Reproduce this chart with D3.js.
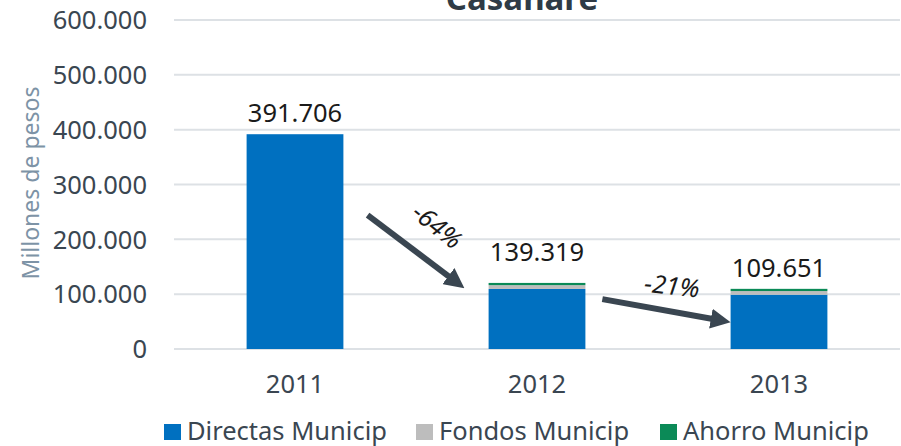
<!DOCTYPE html>
<html>
<head>
<meta charset="utf-8">
<script src="https://cdn.jsdelivr.net/npm/d3@7"></script>
<style>
  body { margin: 0; background: #fff; }
  text { font-family: "Noto Sans", "Open Sans", sans-serif; }
</style>
</head>
<body>
<div id="chart"></div>
<script>
// data
var years = ["2011", "2012", "2013"];
var series = ["Directas Municip", "Fondos Municip", "Ahorro Municip"];
var directas = [391706, 109500, 99000];
var fondos = [0, 7000, 6700];
var ahorro = [0, 4000, 4000];
var totalLabels = [391706, 139319, 109651];
var yTicks = [0, 100000, 200000, 300000, 400000, 500000, 600000];
var changes = ["-64%", "-21%"];

var colors = ["#0070c0", "#bdbdbd", "#0b8a57"];

// set up layout
var W = 901, H = 446;
var margin = { top: 20, right: 1, bottom: 97, left: 174 },
    width = W - margin.left - margin.right,
    height = H - margin.top - margin.bottom;

var svg = d3.select("#chart").append("svg")
    .attr("width", W)
    .attr("height", H);

var g = svg.append("g")
    .attr("transform", "translate(" + margin.left + "," + margin.top + ")");

var x = d3.scaleBand().domain(years).range([0, width])
    .paddingInner(0.6).paddingOuter(0.3);
var y = d3.scaleLinear().domain([0, 600000]).range([height, 0]);

var fmt = function (v) { return d3.format(",")(v).replace(/,/g, "."); };

// gridlines
g.selectAll(".grid")
    .data(yTicks)
    .enter().append("line")
    .attr("x1", 0).attr("x2", width)
    .attr("y1", function (d) { return y(d); })
    .attr("y2", function (d) { return y(d); })
    .attr("stroke", "#dde1e5")
    .attr("stroke-width", 2);

// y tick labels
g.selectAll(".ytick")
    .data(yTicks)
    .enter().append("text")
    .attr("x", -27)
    .attr("y", function (d) { return y(d); })
    .attr("dy", "0.36em")
    .attr("text-anchor", "end")
    .attr("font-size", 25.5)
    .attr("fill", "#3a4651")
    .text(function (d) { return fmt(d); });

// y axis title
svg.append("text")
    .attr("transform", "translate(39,183) rotate(-90)")
    .attr("text-anchor", "middle")
    .attr("font-size", 23)
    .attr("fill", "#7d93a6")
    .text("Millones de pesos");

// title (cut off at the top as in the original)
svg.append("text")
    .attr("x", 522)
    .attr("y", 10)
    .attr("text-anchor", "middle")
    .attr("font-size", 33)
    .attr("font-weight", "bold")
    .attr("fill", "#2f3b46")
    .text("Casanare");

// stacked bars
var rows = years.map(function (yr, i) {
    return { year: yr, "Directas Municip": directas[i], "Fondos Municip": fondos[i], "Ahorro Municip": ahorro[i] };
});
var stack = d3.stack().keys(series)(rows);

g.selectAll(".layer")
    .data(stack)
    .enter().append("g")
    .attr("fill", function (d, i) { return colors[i]; })
    .selectAll("rect")
    .data(function (d) { return d; })
    .enter().append("rect")
    .attr("x", function (d) { return x(d.data.year); })
    .attr("width", x.bandwidth())
    .attr("y", function (d) { return y(d[1]); })
    .attr("height", function (d) { return y(d[0]) - y(d[1]); });

// value labels
g.selectAll(".vlabel")
    .data(totalLabels)
    .enter().append("text")
    .attr("x", function (d, i) { return x(years[i]) + x.bandwidth() / 2; })
    .attr("y", function (d) { return y(d) - 12; })
    .attr("text-anchor", "middle")
    .attr("font-size", 25.5)
    .attr("fill", "#1a1a1a")
    .text(function (d) { return fmt(d); });

// x labels
g.selectAll(".xlabel")
    .data(years)
    .enter().append("text")
    .attr("x", function (d) { return x(d) + x.bandwidth() / 2; })
    .attr("y", height + 44)
    .attr("text-anchor", "middle")
    .attr("font-size", 25.5)
    .attr("fill", "#3a4651")
    .text(function (d) { return d; });

// arrows between bars
var step = x.step();
var cx = function (i, t) { return x(years[i]) + x.bandwidth() / 2 + t * step; };
var arrows = [
    { x1: cx(0, 0.30), v1: 244000, x2: cx(0, 0.70), v2: 111000 },
    { x1: cx(1, 0.27), v1: 91000, x2: cx(1, 0.80), v2: 49000 }
];

svg.append("defs").append("marker")
    .attr("id", "head")
    .attr("viewBox", "0 0 20 20")
    .attr("markerUnits", "userSpaceOnUse")
    .attr("refX", 2).attr("refY", 10)
    .attr("markerWidth", 20).attr("markerHeight", 20)
    .attr("orient", "auto")
    .append("path")
    .attr("d", "M0,0 L20,10 L0,20 z")
    .attr("fill", "#3a4651");

var shorten = function (d, k) {
    var dx = d.x2 - d.x1, dy = y(d.v2) - y(d.v1), l = Math.sqrt(dx * dx + dy * dy);
    return k == "x" ? d.x2 - dx / l * 18 : y(d.v2) - dy / l * 18;
};

g.selectAll(".arrow")
    .data(arrows)
    .enter().append("line")
    .attr("x1", function (d) { return d.x1; })
    .attr("y1", function (d) { return y(d.v1); })
    .attr("x2", function (d) { return shorten(d, "x"); })
    .attr("y2", function (d) { return shorten(d, "y"); })
    .attr("stroke", "#3a4651")
    .attr("stroke-width", 6)
    .attr("marker-end", "url(#head)");

// change labels
var changePos = [
    { xx: cx(0, 0.587), v: 224300, rot: 39 },
    { xx: cx(1, 0.558), v: 114900, rot: 6 }
];
g.selectAll(".chg")
    .data(changes)
    .enter().append("text")
    .attr("transform", function (d, i) {
        return "translate(" + changePos[i].xx + "," + y(changePos[i].v) + ") rotate(" + changePos[i].rot + ")";
    })
    .attr("dy", "0.35em")
    .attr("text-anchor", "middle")
    .attr("font-size", 25)
    .attr("font-style", "italic")
    .attr("fill", "#1a1a1a")
    .text(function (d) { return d; });

// legend
var legendX = [164, 416, 660];
var legend = svg.selectAll(".legend")
    .data(series)
    .enter().append("g")
    .attr("transform", function (d, i) { return "translate(" + legendX[i] + ",0)"; });

legend.append("rect")
    .attr("y", 424)
    .attr("width", 17)
    .attr("height", 16)
    .attr("fill", function (d, i) { return colors[i]; });

legend.append("text")
    .attr("x", 23)
    .attr("y", 440)
    .attr("font-size", 25.5)
    .attr("fill", "#3a4651")
    .text(function (d) { return d; });
</script>
</body>
</html>
